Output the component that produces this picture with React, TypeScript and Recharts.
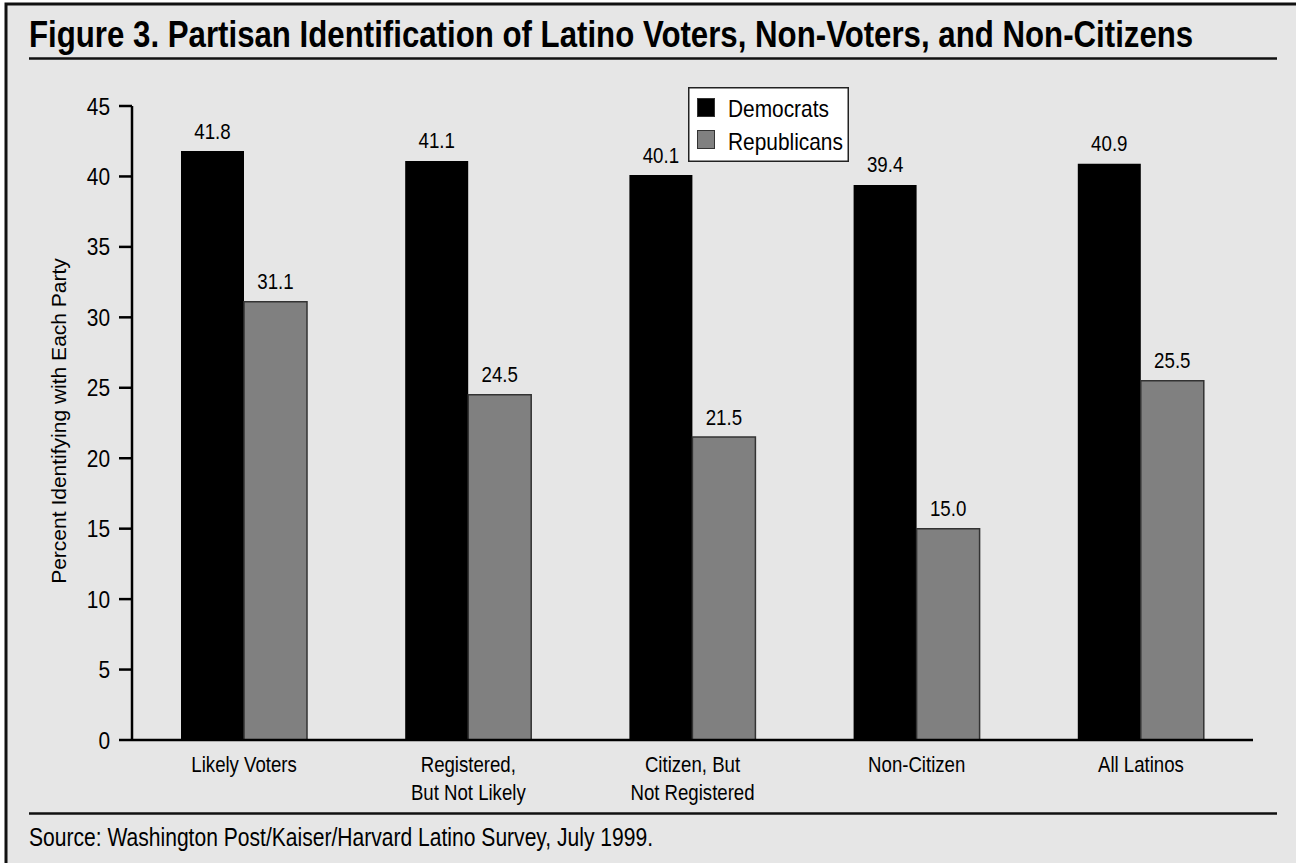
import React from 'react';
import { BarChart, Bar, XAxis, YAxis, Legend, LabelList } from 'recharts';

// Survey categories and party identification shares (percent)
const categories = [
  'Likely Voters',
  'Registered,\nBut Not Likely',
  'Citizen, But\nNot Registered',
  'Non-Citizen',
  'All Latinos',
];
const democrats = [41.8, 41.1, 40.1, 39.4, 40.9];
const republicans = [31.1, 24.5, 21.5, 15.0, 25.5];
const yTicks = [0, 5, 10, 15, 20, 25, 30, 35, 40, 45];

const data = categories.map((category, i) => ({
  category,
  Democrats: democrats[i],
  Republicans: republicans[i],
}));

const W = 1296;
const H = 863;
const FONT = '"Liberation Sans", Arial, Helvetica, sans-serif';
const BG = '#e6e6e6';

// Condensed (narrow) text: regular face squeezed horizontally around its anchor
const Narrow = ({ x, y, k, size, anchor = 'start', weight = 'normal', dy, children }: any) => (
  <text
    transform={`translate(${x} ${y}) scale(${k} 1)`}
    textAnchor={anchor}
    fontFamily={FONT}
    fontSize={size}
    fontWeight={weight}
    fill="#000"
    dy={dy}
  >
    {children}
  </text>
);

const XTick = (props: any) => {
  const { x, y, payload } = props;
  const lines = String(payload.value).split('\n');
  return (
    <g>
      {lines.map((line: string, i: number) => (
        <Narrow key={i} x={x} y={y + 32 + i * 28} k={0.81} size={23} anchor="middle">
          {line}
        </Narrow>
      ))}
    </g>
  );
};

const YTick = (props: any) => {
  const { x, y, payload } = props;
  return (
    <Narrow x={x} y={y} k={0.87} size={24} anchor="end" dy="0.355em">
      {payload.value}
    </Narrow>
  );
};

const ValueLabel = (props: any) => {
  const { x, y, width, value } = props;
  return (
    <Narrow x={Number(x) + Number(width) / 2} y={Number(y) - 12.5} k={0.85} size={22} anchor="middle">
      {Number(value).toFixed(1)}
    </Narrow>
  );
};

const LegendBox = (props: any) => {
  const items = props.payload || [];
  return (
    <svg width={161} height={75} style={{ display: 'block' }}>
      <rect x={0.75} y={0.75} width={159.5} height={73.5} fill="#fff" stroke="#222" strokeWidth={1.5} />
      {items.map((it: any, i: number) => (
        <g key={it.value}>
          <rect
            x={9.5}
            y={11.5 + i * 32}
            width={17}
            height={18}
            fill={it.color}
            stroke="#333"
            strokeWidth={1}
          />
          <Narrow x={40} y={30 + i * 33} k={0.87} size={24}>
            {it.value}
          </Narrow>
        </g>
      ))}
    </svg>
  );
};

export default function App() {
  return (
    <div style={{ position: 'absolute', left: 0, top: 0, width: W, height: H, background: '#fff', overflow: 'hidden' }}>
      <svg width={W} height={H} style={{ position: 'absolute', left: 0, top: 0 }}>
        <rect x={6} y={4} width={W + 10} height={H + 10} fill={BG} stroke="#111" strokeWidth={3} />
        <Narrow x={29} y={47} k={0.844} size={37} weight="bold">
          Figure 3. Partisan Identification of Latino Voters, Non-Voters, and Non-Citizens
        </Narrow>
        <line x1={29} x2={1277} y1={58.5} y2={58.5} stroke="#111" strokeWidth={2.5} />
        <line x1={29} x2={1277} y1={813.5} y2={813.5} stroke="#111" strokeWidth={2.5} />
        <Narrow x={29} y={846} k={0.843} size={25}>
          Source: Washington Post/Kaiser/Harvard Latino Survey, July 1999.
        </Narrow>
      </svg>
      <div style={{ position: 'absolute', left: 0, top: 0 }}>
        <BarChart
          width={W}
          height={H}
          data={data}
          margin={{ top: 106, right: 43, bottom: 63, left: 0 }}
          barGap={0}
          barSize={63}
        >
          <XAxis
            dataKey="category"
            height={60}
            tickSize={0}
            tickMargin={0}
            tickLine={false}
            axisLine={{ stroke: '#000', strokeWidth: 2.5 }}
            tick={<XTick />}
            interval={0}
          />
          <YAxis
            width={132}
            domain={[0, 45]}
            ticks={yTicks}
            tickSize={13}
            tickMargin={9}
            axisLine={{ stroke: '#000', strokeWidth: 2.5 }}
            tickLine={{ stroke: '#000', strokeWidth: 2.5 }}
            tick={<YTick />}
            label={{
              content: () => (
                <text
                  x={66}
                  y={421}
                  transform="rotate(-90 66 421)"
                  textAnchor="middle"
                  fontFamily={FONT}
                  fontSize={21}
                  fill="#000"
                >
                  Percent Identifying with Each Party
                </text>
              ),
            }}
          />
          <Legend
            layout="horizontal"
            verticalAlign="middle"
            align="center"
            content={<LegendBox />}
            wrapperStyle={{ position: 'absolute', left: 688, top: 87, width: 161, height: 75 }}
          />
          <Bar dataKey="Democrats" fill="#000" isAnimationActive={false}>
            <LabelList dataKey="Democrats" content={<ValueLabel />} />
          </Bar>
          <Bar dataKey="Republicans" fill="#808080" stroke="#333" strokeWidth={1.5} isAnimationActive={false}>
            <LabelList dataKey="Republicans" content={<ValueLabel />} />
          </Bar>
        </BarChart>
      </div>
    </div>
  );
}
